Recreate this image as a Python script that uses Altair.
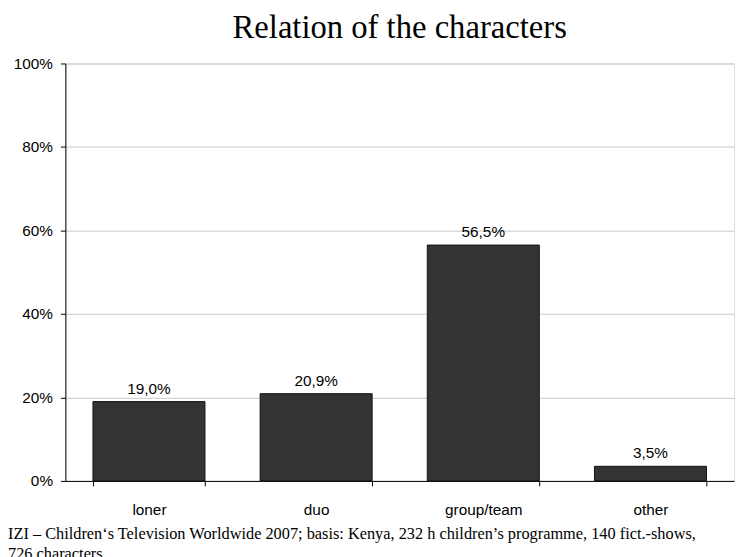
import altair as alt
import pandas as pd

categories = ["loner", "duo", "group/team", "other"]
values = [19.0, 20.9, 56.5, 3.5]
labels = [f"{v:.1f}".replace(".", ",") + "%" for v in values]
footer_lines = [
    "IZI \u2013 Children\u2018s Television Worldwide 2007; basis: Kenya, 232 h children\u2019s programme, 140 fict.-shows,",
    "726 characters",
]

df = pd.DataFrame({"cat": categories, "val": [v / 100 for v in values], "lab": labels})

W, H = 676, 422
FS = 15.5

x = alt.X("cat:N", sort=categories, title=None,
          scale=alt.Scale(paddingInner=0.33, paddingOuter=0.165),
          axis=alt.Axis(labelAngle=0, tickBand="extent", tickSize=5, labelPadding=17,
                        labelFont="Liberation Sans", labelFontSize=FS, labelColor="black",
                        domainColor="black", tickColor="black", grid=False))
y = alt.Y("val:Q", title=None,
          scale=alt.Scale(domain=[0, 1], nice=False),
          axis=alt.Axis(values=[0, 0.2, 0.4, 0.6, 0.8, 1.0], format=".0%", tickSize=5,
                        labelPadding=8, labelFont="Liberation Sans", labelFontSize=FS,
                        labelColor="black", domainColor="black", tickColor="black",
                        gridColor="#c8c8c8", gridWidth=1))

bars = alt.Chart(df).mark_bar(color="#333333", stroke="#111111", strokeWidth=1).encode(x=x, y=y)
text = alt.Chart(df).mark_text(baseline="alphabetic", dy=-8, font="Liberation Sans", fontSize=FS,
                               color="black").encode(x=alt.X("cat:N", sort=categories),
                                                     y="val:Q", text="lab:N")

foot_layers = []
for i, line in enumerate(footer_lines):
    foot_layers.append(
        alt.Chart(pd.DataFrame({"t": [line]})).mark_text(
            align="left", baseline="middle", font="Liberation Serif", fontSize=16.5, color="black"
        ).encode(x=alt.value(-58), y=alt.value(H + 54 + 20 * i), text="t:N")
    )

chart = alt.layer(bars, text, *foot_layers).properties(
    width=W, height=H,
    title=alt.TitleParams("Relation of the characters", font="Liberation Serif", fontSize=33,
                          fontWeight="normal", color="black", anchor="middle", offset=12),
    autosize=alt.AutoSizeParams(type="none"),
    padding={"left": 58, "top": 53, "right": 5, "bottom": 90},
).configure_view(stroke="black", strokeWidth=1.5).configure(background="white")

chart.save("out.html", embed_options={"renderer": "svg", "actions": False})
